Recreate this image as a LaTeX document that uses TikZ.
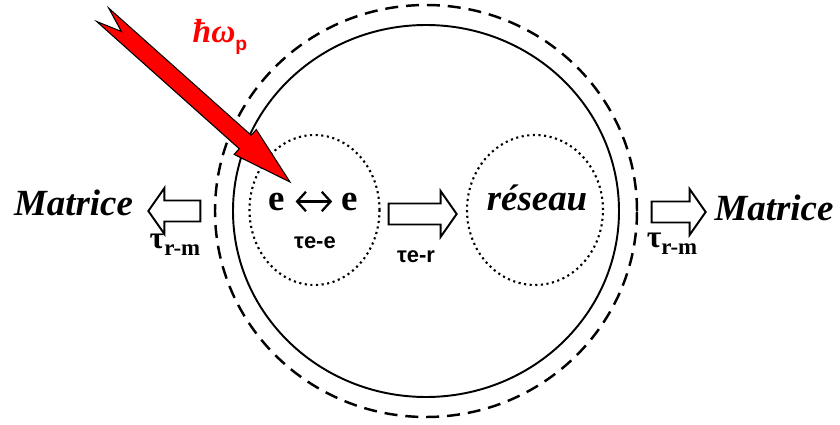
\documentclass[tikz,border=0pt]{standalone}
\usepackage{fontspec}
\setmainfont{Liberation Serif}
\newfontfamily\labelsans{Liberation Sans}
\usetikzlibrary{shapes.geometric, shapes.arrows, positioning, arrows.meta}

\tikzset{
  spot/.style={draw, ellipse, dash pattern=on 1.2pt off 2pt, line width=1.2pt, minimum width=2.6cm, minimum height=3cm},
  hollow/.style={draw, single arrow, fill=white, line width=1.1pt, inner xsep=0pt, inner ysep=0.19cm, minimum width=0.92cm, single arrow head extend=0.25cm, single arrow tip angle=110},
  bigtext/.style={font=\fontsize{21}{25}\selectfont\bfseries\itshape},
  elec/.style={font=\fontsize{21}{25}\selectfont\bfseries, inner xsep=2pt},
  tlabel/.style={font=\labelsans\fontsize{12.5}{14}\selectfont\bfseries},
  taurm/.style={font=\fontsize{18}{22}\selectfont\bfseries}
}

\begin{document}
\begin{tikzpicture}
	\useasboundingbox (0,0) rectangle (16.8,8.48);
	
	% Particle
	\node[draw, ellipse, dash pattern=on 7.4pt off 4.5pt, line width=1.4pt, minimum width=8.44cm, minimum height=8.24cm] (shell) at (8.52,4.26) {};
	\node[draw, ellipse, line width=1.1pt, minimum width=7.72cm, minimum height=7.44cm] (core) at (8.52,4.26) {};
	
	% Electrons and lattice
	\node[spot] (ee) at (6.29,4.28) {};
	\node[spot, minimum width=2.72cm] (res) at (10.70,4.28) {};
	\node[anchor=base, elec] (e1) at (5.53,4.28) {e};
	\node[anchor=base, elec] (e2) at (6.99,4.28) {e};
	\draw[{Straight Barb[length=5pt, width=11pt]}-{Straight Barb[length=5pt, width=11pt]}, line width=1.3pt, shorten <=4pt, shorten >=3pt] (e1.east) -- (e2.west);
	\node[anchor=base, bigtext] (restxt) at (10.74,4.28) {réseau};
	\node[anchor=base, tlabel] (tee) at (6.30,3.52) {τe-e};
	
	% Transfers
	\node[hollow, minimum height=1.36cm] (er) at (8.38,4.2) {};
	\node[anchor=base, tlabel] (ter) at (8.32,3.24) {τe-r};
	\node[hollow, minimum height=1.04cm, shape border rotate=180] (lout) at (3.56,4.26) {};
	\node[hollow, minimum height=1.08cm] (rout) at (13.5,4.24) {};
	\node[anchor=base, taurm] (tleft) at (3.5,3.52) {τ\raisebox{-4pt}{\fontsize{13}{13}\selectfont r-m}};
	\node[anchor=base, taurm] (tright) at (13.44,3.54) {τ\raisebox{-4pt}{\fontsize{13}{13}\selectfont r-m}};
	\node[anchor=base, bigtext] (mleft) at (1.47,4.18) {Matrice};
	\node[anchor=base, bigtext] (mright) at (15.48,4.08) {Matrice};
	
	% Pump
	\draw[fill=red, line width=0.6pt] (5.80,4.84) -- (5.126,5.888) -- (5.024,5.774) -- (2.174,8.318) -- (2.428,7.85) -- (1.934,8.05) -- (4.784,5.506) -- (4.682,5.392) -- cycle;
	\node[anchor=base, red, font=\fontsize{19}{22}\selectfont\bfseries\itshape] (pump) at (4.40,7.62) {ħω\raisebox{-4pt}{\labelsans\upshape\fontsize{11}{11}\selectfont p}};
	
\end{tikzpicture}
\end{document}
